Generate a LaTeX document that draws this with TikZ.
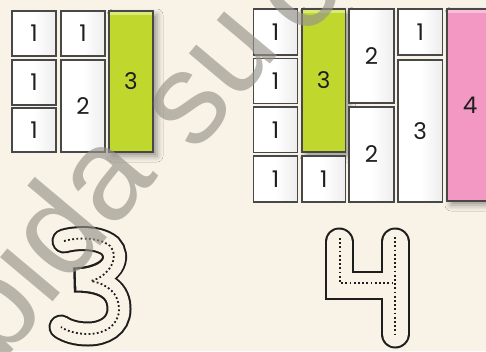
\documentclass[tikz,border=0pt]{standalone}
\usepackage{fontspec}
\setmainfont{Poppins}
\newfontfamily\wmfont{Liberation Sans}
\usetikzlibrary{shadows.blur}
\definecolor{bg}{RGB}{249,243,231}
\definecolor{lime}{RGB}{192,215,46}
\definecolor{limetop}{RGB}{218,234,120}
\definecolor{pinkbox}{RGB}{242,152,194}
\definecolor{pinktop}{RGB}{248,190,218}
\definecolor{edge}{RGB}{72,72,72}
\definecolor{wmgray}{RGB}{150,147,138}
\definecolor{ink}{RGB}{30,30,30}
\begin{document}
\begin{tikzpicture}[x=1pt,y=-1pt,
  base/.style={draw=edge, line width=1.1pt, rectangle, anchor=north west,
    inner sep=0pt, outer sep=0pt, font=\fontsize{23}{23}\selectfont, text=ink},
  wcell/.style={base, left color=white, right color=black!7, middle color=white},
  gloss/.style={base, fill=#1,
    blur shadow={shadow xshift=4pt, shadow yshift=-4pt, shadow blur radius=6pt, shadow opacity=40}},
  gcell/.style={gloss=lime, path picture={\fill[limetop] (path picture bounding box.north west) rectangle ([yshift=-4pt]path picture bounding box.north east);}},
  pcell/.style={gloss=pinkbox, path picture={\fill[pinktop] (path picture bounding box.north west) rectangle ([yshift=-4pt]path picture bounding box.north east);}},
  outerstroke/.style={draw=ink, line width=#1, line cap=round, line join=miter},
  innerstroke/.style={draw=bg, line width=#1, line cap=round, line join=miter},
  dotline/.style={draw=ink, line width=1.8pt, dash pattern=on 1.8pt off 2.4pt},
  wmtext/.style={font=\wmfont\fontsize{130}{130}\selectfont, text=wmgray, text opacity=0.65,
    inner sep=0pt, rotate=50, anchor=base west}
]
\useasboundingbox (0,0) rectangle (486,351);
\fill[bg] (0,0) rectangle (486,351);
\clip (0,0) rectangle (486,351);

% left group
\node[gcell, minimum width=44pt, minimum height=141pt] (lg3) at (109,11) {3};
\node[wcell, minimum width=44pt, minimum height=45pt] (l11) at (12,11) {1};
\node[wcell, minimum width=44pt, minimum height=45pt] (l21) at (12,60) {1};
\node[wcell, minimum width=44pt, minimum height=44pt] (l31) at (12,108) {1};
\node[wcell, minimum width=44pt, minimum height=45pt] (l12) at (61,11) {1};
\node[wcell, minimum width=44pt, minimum height=92pt] (l22) at (61,60) {2};

% right group
\node[pcell, minimum width=46pt, minimum height=192pt] (rp4) at (447,9) {4};
\node[gcell, minimum width=43.5pt, minimum height=143pt] (rg3) at (302,9) {3};
\node[wcell, minimum width=44pt, minimum height=46pt] (ra1) at (253.5,9) {1};
\node[wcell, minimum width=44pt, minimum height=45pt] (ra2) at (253.5,58.5) {1};
\node[wcell, minimum width=44pt, minimum height=45.5pt] (ra3) at (253.5,107) {1};
\node[wcell, minimum width=44pt, minimum height=46pt] (ra4) at (253.5,156) {1};
\node[wcell, minimum width=43.5pt, minimum height=46pt] (rb4) at (302,156) {1};
\node[wcell, minimum width=45pt, minimum height=94pt] (rc1) at (349,9) {2};
\node[wcell, minimum width=45pt, minimum height=95pt] (rc2) at (349,107) {2};
\node[wcell, minimum width=44.5pt, minimum height=46pt] (rd1) at (398,9) {1};
\node[wcell, minimum width=44.5pt, minimum height=142pt] (rd2) at (398,60) {3};

% hollow digit 3
\draw[outerstroke=25pt] (64,241) .. controls (74,238) and (98,236) .. (110,246)
  .. controls (120,256) and (116,278) .. (74,280)
  .. controls (108,280) and (119,292) .. (119,309)
  .. controls (119,326) and (104,334) .. (88,334)
  .. controls (76,334) and (67,331) .. (61,327);
\draw[innerstroke=21pt] (64,241) .. controls (74,238) and (98,236) .. (110,246)
  .. controls (120,256) and (116,278) .. (76.5,280)
  .. controls (108,280) and (119,292) .. (119,309)
  .. controls (119,326) and (104,334) .. (88,334)
  .. controls (76,334) and (67,331) .. (61,327);
\draw[dotline] (64,241) .. controls (74,238) and (98,236) .. (110,246)
  .. controls (120,256) and (110,276) .. (91,281)
  .. controls (108,284) and (119,294) .. (119,309)
  .. controls (119,326) and (104,334) .. (88,334)
  .. controls (76,334) and (67,331) .. (61,327);

% hollow digit 4
\draw[outerstroke=29pt] (339,242) -- (339,285.5) -- (395,285.5) (395,242) -- (395,334);
\draw[innerstroke=25pt] (339,242) -- (339,285.5) -- (395,285.5) (395,242) -- (395,334);
\draw[dotline] (340,238) -- (340,283) -- (395,283);
\draw[dotline] (395,237) -- (395,336);

% watermark
\node[wmtext] (wm1) at (-193.9,596.9) {Prohibida};
\node[wmtext] (wm2) at (195,154.6) {su};
\node[wmtext] (wm3) at (305,41.6) {comercialización};
\end{tikzpicture}
\end{document}
